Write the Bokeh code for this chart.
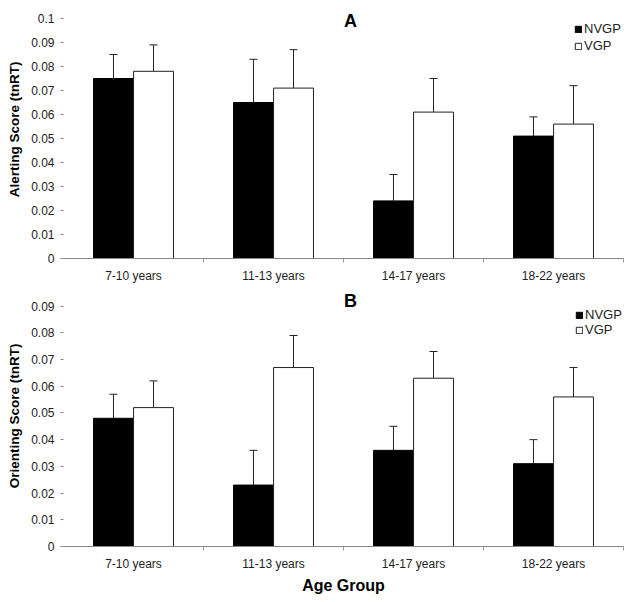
from bokeh.plotting import figure
from bokeh.models import (ColumnDataSource, Range1d, FixedTicker, CustomJSTickFormatter,
                          Whisker, TeeHead, Label, Legend, LegendItem)
from bokeh.layouts import column
from bokeh.embed import file_html
from bokeh.resources import INLINE

groups = ["7-10 years", "11-13 years", "14-17 years", "18-22 years"]
series_names = ["NVGP", "VGP"]

alert_nvgp = [0.075, 0.065, 0.024, 0.051]
alert_nvgp_err = [0.010, 0.018, 0.011, 0.008]
alert_vgp = [0.078, 0.071, 0.061, 0.056]
alert_vgp_err = [0.011, 0.016, 0.014, 0.016]

orient_nvgp = [0.048, 0.023, 0.036, 0.031]
orient_nvgp_err = [0.009, 0.013, 0.009, 0.009]
orient_vgp = [0.052, 0.067, 0.063, 0.056]
orient_vgp_err = [0.010, 0.012, 0.010, 0.011]

y_ticks_a = [0, 0.01, 0.02, 0.03, 0.04, 0.05, 0.06, 0.07, 0.08, 0.09, 0.1]
y_ticks_b = [0, 0.01, 0.02, 0.03, 0.04, 0.05, 0.06, 0.07, 0.08, 0.09]

FONT = "Liberation Sans"
BAR_W = 0.285
DODGE = 0.143


def make_panel(title, ylabel, yticks, nv, nv_err, vg, vg_err, height, frame_px, tick_px,
               bottom, title_y, legend_loc, legend_spacing, xlabel=None):
    n = len(groups)
    ymax = max(yticks)
    y_end = ymax * frame_px / tick_px  # frame reaches to top of figure
    p = figure(width=628, height=height, output_backend="svg", toolbar_location=None,
               x_range=Range1d(0, n), y_range=Range1d(0, y_end),
               min_border_left=63, min_border_right=5, min_border_top=0,
               min_border_bottom=bottom)
    p.outline_line_color = None
    p.grid.visible = False
    p.background_fill_color = "white"
    p.border_fill_color = "white"

    centers = [i + 0.5 for i in range(n)]
    x_nv = [c - DODGE for c in centers]
    x_vg = [c + DODGE for c in centers]

    src_nv = ColumnDataSource(dict(x=x_nv, top=nv, upper=[a + b for a, b in zip(nv, nv_err)]))
    src_vg = ColumnDataSource(dict(x=x_vg, top=vg, upper=[a + b for a, b in zip(vg, vg_err)]))

    r_nv = p.vbar(x="x", top="top", width=BAR_W, source=src_nv, fill_color="black",
                  line_color="black", line_width=1)
    r_vg = p.vbar(x="x", top="top", width=BAR_W, source=src_vg, fill_color="white",
                  line_color="#222222", line_width=1)

    for src in (src_nv, src_vg):
        w = Whisker(source=src, base="x", upper="upper", lower="top", dimension="height",
                    line_color="#222222", line_width=1, lower_head=None,
                    upper_head=TeeHead(size=8, line_color="#222222", line_width=1))
        p.add_layout(w)

    # x axis
    xa = p.xaxis[0]
    xa.ticker = FixedTicker(ticks=centers, minor_ticks=list(range(1, n + 1)))
    xa.formatter = CustomJSTickFormatter(args=dict(labels=groups),
                                         code="return labels[Math.floor(tick)];")
    xa.major_tick_out = 0
    xa.major_tick_in = 0
    xa.major_tick_line_color = None
    xa.minor_tick_out = 4
    xa.minor_tick_in = 0
    xa.minor_tick_line_color = "#999999"
    xa.axis_line_color = "#888888"
    xa.major_label_standoff = 6
    xa.major_label_text_font = FONT
    xa.major_label_text_font_size = "12px"
    xa.major_label_text_color = "#222222"
    if xlabel:
        xa.axis_label = xlabel
        xa.axis_label_text_font = FONT
        xa.axis_label_text_font_style = "bold"
        xa.axis_label_text_font_size = "16px"
        xa.axis_label_text_color = "black"
        xa.axis_label_standoff = 3

    # y axis
    ya = p.yaxis[0]
    ya.ticker = FixedTicker(ticks=yticks, minor_ticks=[])
    ya.formatter = CustomJSTickFormatter(code="return String(Number(tick.toFixed(2)));")
    ya.axis_line_color = None
    ya.major_tick_out = 3
    ya.major_tick_in = 0
    ya.major_tick_line_color = "#888888"
    ya.minor_tick_line_color = None
    ya.major_label_standoff = 6
    ya.major_label_text_font = FONT
    ya.major_label_text_font_size = "12px"
    ya.major_label_text_color = "#222222"
    ya.axis_label = ylabel
    ya.axis_label_text_font = FONT
    ya.axis_label_text_font_style = "bold"
    ya.axis_label_text_font_size = "13.5px"
    ya.axis_label_text_color = "black"
    ya.axis_label_standoff = 6

    # panel letter
    p.add_layout(Label(x=287, y=title_y, x_units="screen", y_units="screen", text=title,
                       text_font=FONT, text_font_style="bold", text_font_size="18px",
                       text_align="center", text_baseline="middle", text_color="black"))

    legend = Legend(items=[LegendItem(label=series_names[0], renderers=[r_nv]),
                           LegendItem(label=series_names[1], renderers=[r_vg])],
                    location=legend_loc, margin=0, padding=0,
                    spacing=legend_spacing, glyph_width=8, glyph_height=8,
                    label_standoff=2, label_height=12,
                    label_text_font=FONT, label_text_font_size="13px",
                    label_text_color="#222222",
                    border_line_color=None, background_fill_alpha=0)
    p.add_layout(legend)
    return p


top_panel = make_panel("A", "Alerting Score (tnRT)", y_ticks_a,
                       alert_nvgp, alert_nvgp_err, alert_vgp, alert_vgp_err,
                       height=285, frame_px=258, tick_px=240, bottom=27,
                       title_y=238, legend_loc=(511, 205), legend_spacing=2)
bottom_panel = make_panel("B", "Orienting Score (tnRT)", y_ticks_b,
                          orient_nvgp, orient_nvgp_err, orient_vgp, orient_vgp_err,
                          height=317, frame_px=261, tick_px=240.4, bottom=56,
                          title_y=246, legend_loc=(512, 209), legend_spacing=0,
                          xlabel="Age Group")

layout = column(top_panel, bottom_panel, spacing=0)
open("out.html", "w").write(file_html(layout, INLINE))
